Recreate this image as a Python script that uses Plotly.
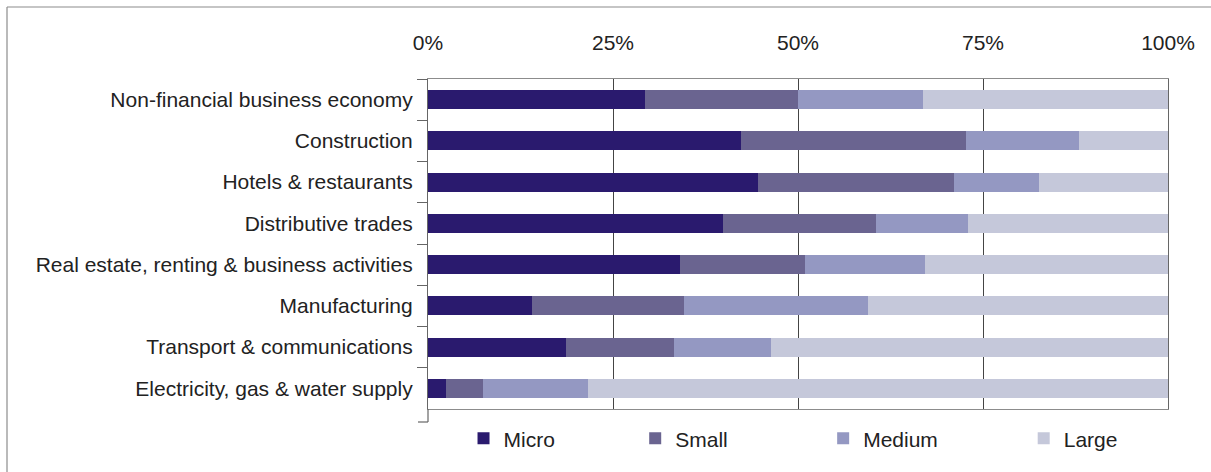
import plotly.graph_objects as go

# Share of value added by enterprise size class, per sector (%)
sectors = [
    "Non-financial business economy",
    "Construction",
    "Hotels & restaurants",
    "Distributive trades",
    "Real estate, renting & business activities",
    "Manufacturing",
    "Transport & communications",
    "Electricity, gas & water supply",
]
micro = [29.3, 42.3, 44.6, 39.9, 34.0, 14.0, 18.6, 2.4]
small = [20.7, 30.4, 26.5, 20.7, 16.9, 20.6, 14.6, 5.0]
medium = [16.9, 15.3, 11.4, 12.4, 16.3, 24.9, 13.2, 14.2]
large = [33.1, 12.0, 17.5, 27.0, 32.8, 40.5, 53.6, 78.4]
tick_values = [0, 25, 50, 75, 100]

series = [
    ("Micro", micro, "#2a1a6e", "legend", 0.048),
    ("Small", small, "#6a6490", "legend2", 0.280),
    ("Medium", medium, "#9498c2", "legend3", 0.534),
    ("Large", large, "#c5c8da", "legend4", 0.805),
]

FONT = "Liberation Sans, Arial, sans-serif"
FS = 21
W, H = 1211, 472
ML, MR, MT, MB = 428, 43, 79, 63
PW, PH = W - ML - MR, H - MT - MB

fig = go.Figure()
legends = {}
for name, vals, color, leg, lx in series:
    fig.add_trace(go.Bar(
        y=sectors, x=vals, name=name, orientation="h",
        marker=dict(color=color, line=dict(width=0)),
        legend=leg, showlegend=True,
    ))
    legends[leg] = dict(
        x=lx, xanchor="left", y=-0.09, yanchor="middle",
        orientation="h", font=dict(family=FONT, size=FS, color="#222"),
        bgcolor="rgba(0,0,0,0)", borderwidth=0, itemwidth=30,
    )


def px_x(p):
    return (p - ML) / PW


def px_y(p):
    return 1 - (p - MT) / PH


shapes = [
    # outer frame (top and left edges)
    dict(type="line", xref="paper", yref="paper", x0=px_x(7), x1=px_x(W + 5),
         y0=px_y(7), y1=px_y(7), line=dict(color="#8c8c8c", width=1.2)),
    dict(type="line", xref="paper", yref="paper", x0=px_x(7), x1=px_x(7),
         y0=px_y(7), y1=px_y(H + 5), line=dict(color="#8c8c8c", width=1.2)),
    # category axis extension below the plot area
    dict(type="line", xref="paper", yref="paper", x0=0, x1=0,
         y0=0, y1=px_y(422), line=dict(color="#666", width=1.2)),
    dict(type="line", xref="paper", yref="paper", x0=px_x(418), x1=0,
         y0=px_y(422), y1=px_y(422), line=dict(color="#666", width=1.2)),
]

fig.update_layout(
    width=W, height=H,
    margin=dict(l=ML, r=MR, t=MT, b=MB, pad=0),
    barmode="stack", bargap=0.54,
    plot_bgcolor="white", paper_bgcolor="white",
    font=dict(family=FONT, size=FS, color="#222"),
    showlegend=True,
    shapes=shapes,
    **legends,
)
fig.update_xaxes(
    side="top", range=[0, 100], tickvals=tick_values,
    ticktext=[f"{v}%" for v in tick_values],
    showgrid=True, gridcolor="#444", gridwidth=1,
    showline=True, linecolor="#8c8c8c", linewidth=1.2, mirror=True,
    ticks="", ticklabelstandoff=20, zeroline=False,
    tickfont=dict(family=FONT, size=FS, color="#222"),
)
fig.update_yaxes(
    autorange="reversed", showgrid=False,
    showline=True, linecolor="#666", linewidth=1.2, mirror=True,
    ticks="outside", ticklen=10, tickcolor="#666", tickwidth=1.2,
    tickson="boundaries", ticklabelstandoff=10,
    tickfont=dict(family=FONT, size=FS, color="#222"),
)

fig.write_html("out.html")
